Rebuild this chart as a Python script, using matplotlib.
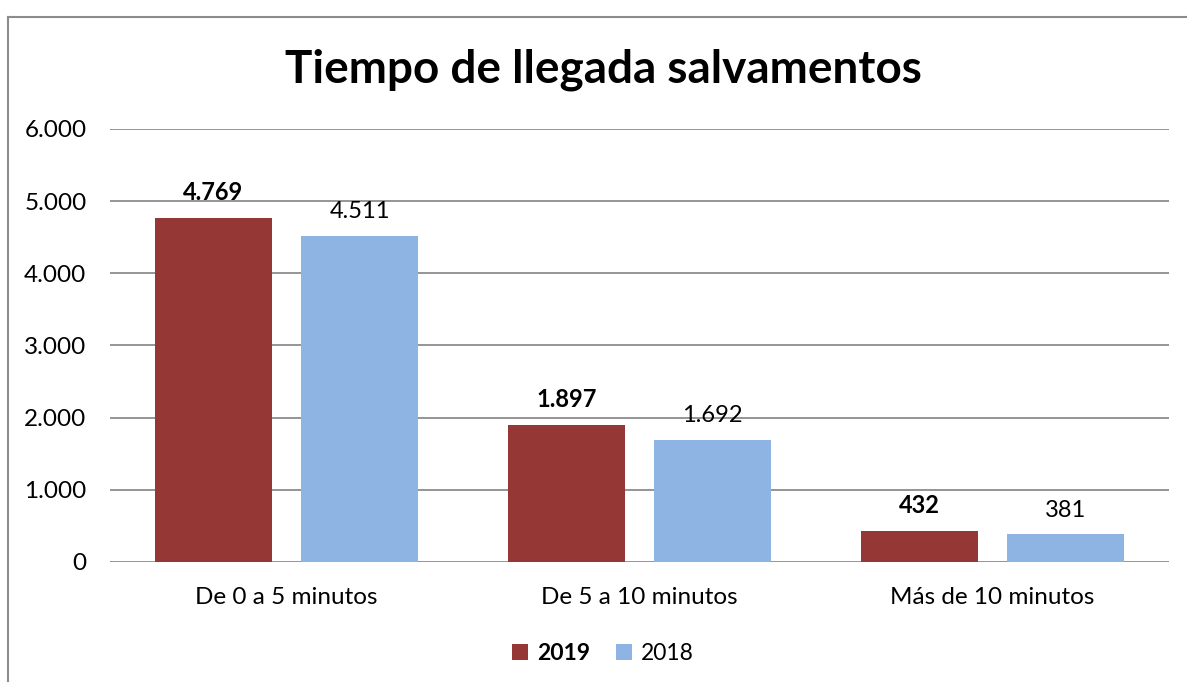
import matplotlib
matplotlib.use('Agg')
import matplotlib.pyplot as plt
import numpy as np

plt.rcParams['font.family'] = ['Lato', 'DejaVu Sans']

# Data
categories = ['De 0 a 5 minutos', 'De 5 a 10 minutos', 'Más de 10 minutos']
values_2019 = [4769, 1897, 432]
values_2018 = [4511, 1692, 381]
series_names = ['2019', '2018']

color_2019 = '#953735'
color_2018 = '#8EB4E3'


def fmt(v):
    return f'{v:,.0f}'.replace(',', '.')


fig = plt.figure(figsize=(11.87, 6.82), dpi=100)
ax = fig.add_axes([0.0927, 0.176, 0.892, 0.635])

x = np.arange(len(categories))
width = 0.331
offset = 0.207

bars19 = ax.bar(x - offset, values_2019, width, color=color_2019, label=series_names[0], zorder=3)
bars18 = ax.bar(x + offset, values_2018, width, color=color_2018, label=series_names[1], zorder=3)

for b, v in zip(bars19, values_2019):
    ax.annotate(fmt(v), (b.get_x() + b.get_width() / 2, v), xytext=(0, 10),
                textcoords='offset points', ha='center', va='bottom',
                fontsize=17, fontweight='bold')
for b, v in zip(bars18, values_2018):
    ax.annotate(fmt(v), (b.get_x() + b.get_width() / 2, v), xytext=(0, 10),
                textcoords='offset points', ha='center', va='bottom', fontsize=17)

ax.set_xlim(-0.5, 2.5)
ax.set_ylim(0, 6000)
ax.set_yticks(np.arange(0, 6001, 1000))
ax.set_yticklabels([fmt(t) for t in np.arange(0, 6001, 1000)])
ax.set_xticks(x)
ax.set_xticklabels(categories)
ax.tick_params(axis='both', length=0, labelsize=17.5)
ax.tick_params(axis='y', pad=17)
ax.tick_params(axis='x', pad=18)
ax.grid(axis='y', color='#8c8c8c', linewidth=1.3, zorder=0)
for s in ax.spines.values():
    s.set_visible(False)

fig.text(0.508, 0.897, 'Tiempo de llegada salvamentos', ha='center', va='center',
         fontsize=33, fontweight='bold')

leg = fig.legend(loc='center', bbox_to_anchor=(0.508, 0.042), ncol=2, frameon=False,
                 fontsize=16.5, handlelength=0.7, handleheight=0.7, handletextpad=0.4,
                 columnspacing=1.1)
leg.get_texts()[0].set_fontweight('bold')

# outer chart frame (top and left edges visible)
fig.add_artist(plt.Line2D([8 / 1187, 1.0], [1 - 17 / 682, 1 - 17 / 682],
                          transform=fig.transFigure, color='#8c8c8c', linewidth=1.5))
fig.add_artist(plt.Line2D([8 / 1187, 8 / 1187], [0.0, 1 - 17 / 682],
                          transform=fig.transFigure, color='#8c8c8c', linewidth=1.5))

fig.savefig('out.png', dpi=100)
